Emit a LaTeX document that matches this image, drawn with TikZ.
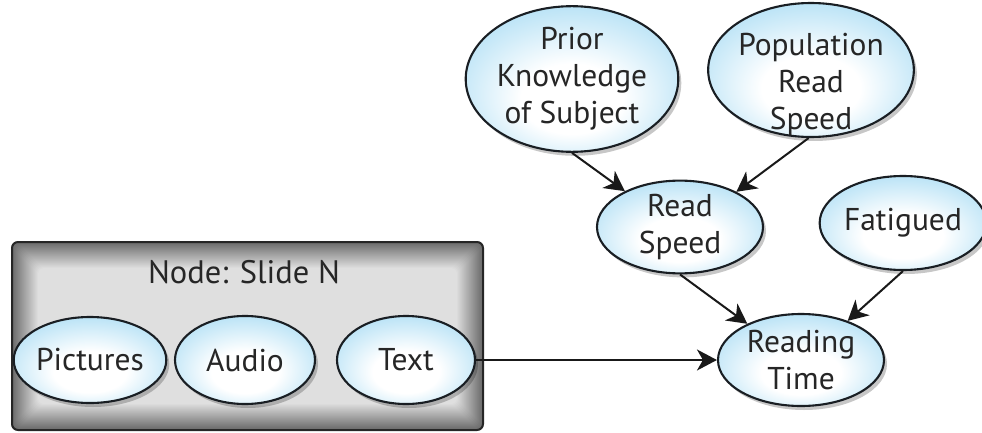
\documentclass[tikz,border=0pt]{standalone}
\usepackage{fontspec}
\setmainfont{PT Sans}
\usetikzlibrary{shapes.geometric,shadows,arrows.meta}
\definecolor{bluec}{RGB}{110,196,236}
\definecolor{outl}{RGB}{25,30,35}
\pgfdeclareradialshading{bluerad}{\pgfpoint{0bp}{-9bp}}{color(0bp)=(white); color(12bp)=(white); color(48bp)=(bluec); color(50bp)=(bluec)}
\tikzset{
  var/.style={ellipse, draw=outl, line width=2.1pt, shading=bluerad, inner sep=0pt,
    align=center, font=\fontsize{31.5}{37}\selectfont, text=black!85,
    drop shadow={shadow xshift=3pt, shadow yshift=-4pt, opacity=0.22, fill=black}},
  conn/.style={draw=black!90, line width=2pt, -{Stealth[length=20pt,width=21pt,inset=6pt]}},
}
\begin{document}
\begin{tikzpicture}[x=1pt,y=-1pt]
\useasboundingbox (0,0) rectangle (982,433);
% box gradient
\foreach \i in {0,...,26}{
  \pgfmathsetmacro\c{58-1.75*\i}
  \fill[black!\c, rounded corners=6pt] (12+\i,242+\i) rectangle (483-\i,430-\i);
}
\node[draw=black!85, line width=2pt, rounded corners=6pt, minimum width=471pt, minimum height=188pt, inner sep=0pt] (slide) at (247.5,336) {};
\node[font=\fontsize{32.5}{37}\selectfont, text=black!85] (title) at (244,272) {Node: Slide N};
% variables
\node[var, minimum width=136pt, minimum height=86pt] (pic) at (90,360) {Pictures};
\node[var, minimum width=140pt, minimum height=88pt] (aud) at (245,360) {Audio};
\node[var, minimum width=138pt, minimum height=88pt] (txt) at (406,360) {Text};
\node[var, minimum width=202pt, minimum height=122pt] (prior) at (572,79) {Prior\\Knowledge\\of Subject};
\node[var, minimum width=186pt, minimum height=134pt] (pop) at (811,70) {\raisebox{-21pt}[0pt][0pt]{\begin{tabular}{@{}c@{}}Population\\Read\\Speed\end{tabular}}};
\node[var, minimum width=166pt, minimum height=88pt] (read) at (680,227) {Read\\Speed};
\node[var, minimum width=160pt, minimum height=94pt] (fat) at (903,223) {Fatigued};
\node[var, minimum width=166pt, minimum height=92pt] (rt) at (801,360) {Reading\\Time};
% connectors
\draw[conn] (prior.270) -- (read.147);
\draw[conn] (pop.268) -- (read.32);
\draw[conn] (read.270) -- (rt.146);
\draw[conn] (fat.270) -- (rt.40);
\draw[conn] (txt.east) -- (rt.west);
\end{tikzpicture}
\end{document}
